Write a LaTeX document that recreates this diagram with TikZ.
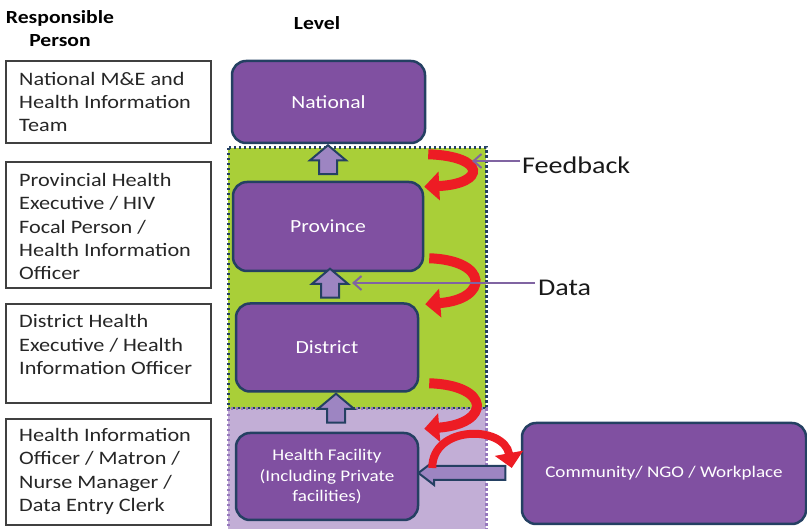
\documentclass[tikz,border=0pt]{standalone}
\usepackage{fontspec}
\setmainfont{Carlito}[FakeStretch=1.17]
\usetikzlibrary{arrows.meta,shapes.arrows,calc}
\definecolor{lvlfill}{RGB}{128,80,161}
\definecolor{lvlline}{RGB}{36,64,98}
\definecolor{grnzone}{RGB}{169,207,56}
\definecolor{lilzone}{RGB}{194,174,214}
\definecolor{lilline}{RGB}{150,120,190}
\definecolor{upfill}{RGB}{157,133,194}
\definecolor{redarr}{RGB}{237,28,36}
\definecolor{infopurple}{RGB}{128,100,162}
\begin{document}
\begin{tikzpicture}[x=1pt,y=-1pt]
\tikzstyle{every node}+=[inner sep=0pt]
\tikzstyle{personbox}=[draw=black!75, line width=1.3pt, minimum width=205pt]
\tikzstyle{persontext}=[anchor=west, align=left, font=\fontsize{19}{23.2}\selectfont, text=black!85]
\tikzstyle{levelbox}=[draw=lvlline, fill=lvlfill, line width=2.5pt, rounded corners=14pt, text=white, align=center]
\tikzstyle{uparrow}=[single arrow, draw=lvlline, fill=upfill, line width=2pt, rotate=90, inner ysep=8pt, minimum height=29pt, minimum width=34pt, single arrow head extend=9pt, single arrow tip angle=100]
\tikzstyle{feedcurve}=[redarr, line width=10pt, -{Triangle[width=28pt,length=15pt]}]
\tikzstyle{infoarrow}=[infopurple, line width=2pt, -{Straight Barb[length=8pt,width=14pt]}]
\useasboundingbox (0,0) rectangle (807,529);
\draw [fill=grnzone, draw=lvlline, line width=3pt, dash pattern=on 2.5pt off 2.5pt] (228,148) rectangle (486,409);
\draw [fill=lilzone, draw=lilline, line width=3pt, dash pattern=on 2.5pt off 2.5pt] (228,409) rectangle (486,531);
\node [font=\bfseries\fontsize{18.5}{23}\selectfont, align=center] (resp) at (60,29) {Responsible\\Person};
\node [font=\bfseries\fontsize{18.5}{23}\selectfont] (lvl) at (317,23) {Level};
\node [personbox, minimum height=82pt] (pb1) at (108.5,102) {};
\node [persontext] (pt1) at (19,102) {National M\&E and\\Health Information\\Team};
\node [personbox, minimum height=126pt] (pb2) at (108.5,225) {};
\node [persontext] (pt2) at (19,226.5) {Provincial Health\\Executive / HIV\\Focal Person /\\Health Information\\Officer};
\node [personbox, minimum height=99pt] (pb3) at (108.5,353.5) {};
\node [persontext] (pt3) at (19,344.5) {District Health\\Executive / Health\\Information Officer};
\node [personbox, minimum height=106pt] (pb4) at (108.5,472) {};
\node [persontext] (pt4) at (19,471.5) {Health Information\\Officer / Matron /\\Nurse Manager /\\Data Entry Clerk};
\node [levelbox, minimum width=193pt, minimum height=82pt, font=\fontsize{18.5}{22}\selectfont] (nat) at (328.5,102) {National};
\node [levelbox, minimum width=190pt, minimum height=89pt, font=\fontsize{18.5}{22}\selectfont] (prov) at (328,226.5) {Province};
\node [levelbox, minimum width=182pt, minimum height=88pt, font=\fontsize{18.5}{22}\selectfont] (dist) at (327,347.5) {District};
\node [levelbox, minimum width=182pt, minimum height=87pt, font=\fontsize{16.3}{20.5}\selectfont] (hf) at (327,476.5) {Health Facility\\(Including Private\\facilities)};
\node [levelbox, minimum width=284pt, minimum height=101pt, font=\fontsize{16.3}{20.5}\selectfont] (com) at (664,473.5) {Community/ NGO / Workplace};
\node [uparrow] (up1) at (328,163.5) {};
\node [uparrow] (up2) at (330,287) {};
\node [uparrow] (up3) at (336,412) {};
\node [single arrow, draw=lvlline, fill=upfill, line width=2pt, rotate=180, inner ysep=6pt, minimum height=87pt, minimum width=22pt, single arrow head extend=5pt, single arrow tip angle=75] (cmarr) at (466.5,473) {};
\draw [feedcurve] ($(nat.south east)+(2,10)$) .. controls +(58,2) and +(62,-3) .. ($(prov.north east)+(0,6)$);
\draw [feedcurve] ($(prov.south east)+(5,-14)$) .. controls +(60,2) and +(64,-5) .. ($(dist.north east)+(6,2)$);
\draw [feedcurve] ($(dist.south east)+(10,-9.5)$) .. controls +(62,2) and +(67,-5) .. ($(hf.north east)+(5,-3)$);
\draw [feedcurve, line width=8pt] ($(hf.east)+(13,-8.5)$) .. controls +(0,-43) and +(-8,-43) .. ($(com.west)+(-9,-5.5)$);
\node [font=\fontsize{24}{28}\selectfont, anchor=west, text=black!90] (fb) at (522,165) {Feedback};
\coordinate (fbtip) at (472,161);
\draw [infoarrow] ($(fb.west)+(-2,-4)$) -- (fbtip);
\node [font=\fontsize{24}{28}\selectfont, anchor=west, text=black!90] (dt) at (538,287.5) {Data};
\coordinate (dttip) at (352,283);
\draw [infoarrow] ($(dt.west)+(-3,-4.5)$) -- (dttip);
\end{tikzpicture}
\end{document}
